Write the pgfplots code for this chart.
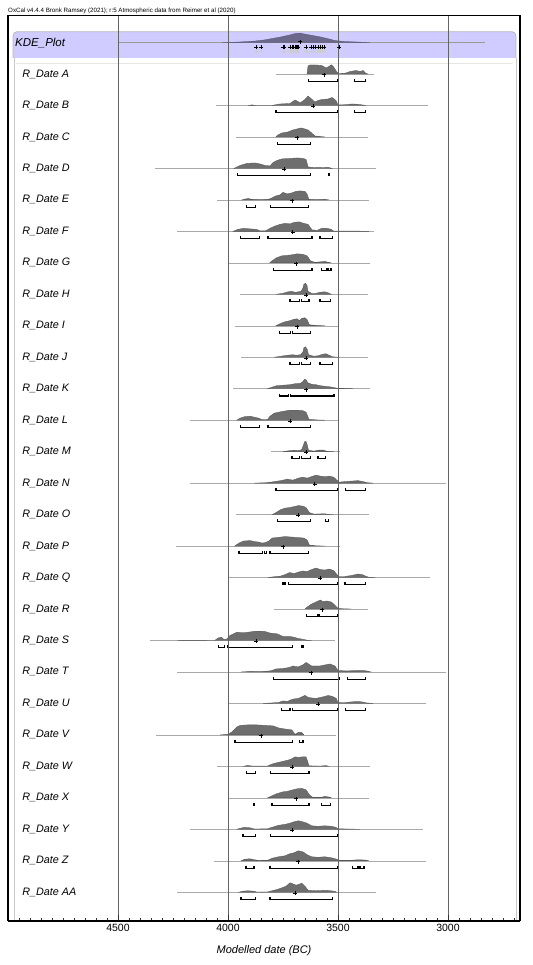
\documentclass[border=0pt]{standalone}
\usepackage{fontspec}
\setmainfont{Liberation Sans}
\usepackage{pgfplots}
\pgfplotsset{compat=1.18}
\definecolor{kdebg}{RGB}{208,204,255}
\definecolor{kdeden}{RGB}{108,104,140}
\definecolor{rangegray}{RGB}{170,170,170}
\definecolor{densgray}{RGB}{110,110,110}
\definecolor{densedge}{RGB}{85,85,85}
\definecolor{gridgray}{RGB}{100,100,100}
\definecolor{innergray}{RGB}{200,200,200}
\newcommand{\labfont}{\fontsize{10.8bp}{13bp}\selectfont}
\newcommand{\Row}[6]{%
 \addplot[rangegray, line width=0.5bp] coordinates {(#3,#1) (#4,#1)};
 \addplot[fill=densgray, draw=densedge, line width=0.3bp, y filter/.expression={#1-y}] coordinates {#5} -- cycle;
 \addplot[only marks, mark=+, mark size=2bp, mark options={line width=0.8bp}, black, y filter/.expression={#1+y}] coordinates {(#6,0.8)};
 \node[anchor=west, inner sep=0pt, font=\labfont] at (axis cs:4936,#1) {\itshape #2};
}
\newcommand{\Brk}[3]{\addplot[black, line width=1.1bp, y filter/.expression={#1+y}] coordinates {(#2,4.8) (#2,7.3) (#3,7.3) (#3,4.8)};}
\begin{document}
\begin{tikzpicture}
\useasboundingbox (-8bp,-44.3bp) rectangle (525bp,920.7bp);
\node[anchor=base west, inner sep=0pt, font=\fontsize{6.2bp}{7bp}\selectfont] at (0bp,907.7bp) {OxCal v4.4.4 Bronk Ramsey (2021); r:5 Atmospheric data from Reimer et al (2020)};
\begin{axis}[
 at={(0bp,0bp)}, anchor=south west, scale only axis, width=512bp, height=905bp,
 x dir=reverse, xmin=2672.7, xmax=5000,
 y dir=reverse, ymin=15.7, ymax=920.7,
 ytick=\empty,
 xtick={3000,3500,4000,4500},
 minor xtick={2700,2750,...,5000},
 xtick pos=left, tick align=inside,
 major tick length=6bp, minor tick length=3bp,
 xmajorgrids, grid style={draw=gridgray, line width=0.8bp},
 axis on top,
 axis line style={line width=1.2bp},
 tick style={black!80, line width=0.6bp},
 xticklabel style={font=\fontsize{10.5bp}{12bp}\selectfont},
 /pgf/number format/assume math mode=true,
 /pgf/number format/1000 sep={},
 xlabel={\itshape Modelled date (BC)},
 xlabel style={font=\fontsize{11bp}{13bp}\selectfont, at={(axis description cs:0.5,-0.0335)}, anchor=center},
 clip=false,
]
% KDE box
\filldraw[fill=kdebg, draw=gray!55, line width=0.8bp, rounded corners=4bp] (axis cs:4977,31.7) rectangle (axis cs:2691,63);
\fill[white] (axis cs:4995,58.3) rectangle (axis cs:2676,63.5);
\draw[innergray, line width=0.8bp] (axis cs:4973,58.3) -- (axis cs:4973,920);
\draw[innergray, line width=0.8bp] (axis cs:2691,58.3) -- (axis cs:2691,920);
\draw[black, line width=2bp] (axis cs:5000,920.7) -- (axis cs:2672.7,920.7);
% KDE row
\addplot[gray!80, line width=0.5bp] coordinates {(4500,42.53) (2832,42.53)};
\addplot[fill=kdeden, draw=kdeden!80!black, line width=0.3bp, y filter/.expression={42.53-y}] coordinates {(4027,0)(3950,0.5)(3877,1.5)(3832,2.7)(3764,5.4)(3720,7.5)(3695,9)(3673,9.4)(3640,8)(3582,5.7)(3540,3.5)(3514,2)(3468,1)(3400,0.4)(3355,0)} -- cycle;
\addplot[only marks, mark=+, mark size=2bp, mark options={line width=0.6bp}, gray!40] coordinates {(3873,51)(3850,51)(3750,51)(3745,51)(3718,51)(3709,51)(3705,51)(3695,51)(3691,51)(3686,51)(3682,51)(3645,51)(3623,51)(3614,51)(3605,51)(3591,51)(3582,51)(3573,51)(3564,51)};
\addplot[only marks, mark=+, mark size=2bp, mark options={line width=0.7bp}, black] coordinates {(3873,47)(3850,47)(3750,47)(3745,47)(3718,47)(3709,47)(3705,47)(3695,47)(3691,47)(3686,47)(3682,47)(3645,47)(3623,47)(3614,47)(3605,47)(3591,47)(3582,47)(3573,47)(3564,47)(3495,47)};
\addplot[only marks, mark=+, mark size=2bp, mark options={line width=0.8bp}, black] coordinates {(3673,41.8)};
\node[anchor=west, inner sep=0pt, font=\fontsize{11.5bp}{13bp}\selectfont] at (axis cs:4968,42.8) {\itshape KDE\_Plot};
% rows
\Row{74.00}{R\_Date A}{3782}{3336}{(3641,0)(3636,8)(3627,9)(3600,9)(3573,8.5)(3555,6)(3545,7)(3530,9.2)(3520,7)(3505,2)(3498,0.3)(3491,0.3)(3464,1)(3445,2.5)(3418,3.5)(3400,2.5)(3386,3.5)(3375,1)(3364,0)}{3564}
\Brk{74.00}{3636}{3500}\Brk{74.00}{3427}{3373}
\Row{105.47}{R\_Date B}{4055}{3091}{(3910,0)(3891,0.6)(3872,0)(3800,0)(3790,0.5)(3764,1.5)(3718,2)(3695,5.5)(3682,4)(3673,2.5)(3650,6)(3636,9.5)(3623,7)(3605,3.5)(3591,5)(3573,6)(3545,6.5)(3527,8)(3509,5)(3500,0.5)(3468,0.8)(3436,1.5)(3409,1.2)(3373,0)}{3614}
\Brk{105.47}{3782}{3500}\Brk{105.47}{3427}{3377}
\Row{136.94}{R\_Date C}{3964}{3364}{(3782,0)(3773,2)(3755,4)(3727,5)(3705,7)(3686,8)(3668,9)(3650,8)(3636,7)(3620,4)(3605,1)(3580,0.4)(3560,0)}{3686}
\Brk{136.94}{3773}{3627}
\Row{168.41}{R\_Date D}{4332}{3327}{(3973,0)(3945,3)(3914,5)(3877,5.5)(3855,4.5)(3832,3)(3809,2.5)(3795,6)(3777,8)(3755,9.5)(3718,10)(3686,10.5)(3659,10)(3645,9)(3636,1.5)(3605,0.8)(3573,0.8)(3545,1.2)(3527,0)}{3745}
\Brk{168.41}{3955}{3627}\Brk{168.41}{3545}{3538}
\Row{199.88}{R\_Date E}{4050}{3359}{(3936,0)(3909,1.5)(3891,0.5)(3850,0.3)(3818,0.5)(3805,1.5)(3782,4)(3764,5)(3750,7.5)(3730,6)(3710,7)(3691,8.5)(3673,9)(3650,8.5)(3641,6)(3632,0.5)(3600,0.3)(3560,0.5)(3540,0)}{3709}
\Brk{199.88}{3914}{3877}\Brk{199.88}{3805}{3636}
\Row{231.35}{R\_Date F}{4232}{3336}{(3977,0)(3955,2)(3930,3)(3900,2.5)(3870,2)(3855,0.5)(3830,0.5)(3809,3)(3790,5)(3764,7)(3740,8)(3718,7.5)(3700,9)(3677,9.5)(3655,8)(3636,7)(3618,1.5)(3595,1)(3575,3)(3550,3)(3530,2)(3520,0.3)(3400,0.2)(3360,0)}{3705}
\Brk{231.35}{3945}{3855}\Brk{231.35}{3818}{3618}\Brk{231.35}{3582}{3523}
\Row{262.82}{R\_Date G}{3995}{3355}{(3810,0)(3800,2)(3780,5)(3755,7)(3730,7.5)(3710,8)(3686,9)(3660,8.5)(3640,7)(3625,2)(3605,0.5)(3580,1)(3560,1.5)(3545,0.5)(3530,0)}{3691}
\Brk{262.82}{3795}{3618}\Brk{262.82}{3577}{3550}\Brk{262.82}{3545}{3532}
\Row{294.29}{R\_Date H}{3945}{3364}{(3782,0)(3750,1)(3727,2.5)(3710,3)(3695,2)(3680,2.5)(3668,3)(3660,6)(3655,10)(3648,11)(3641,9)(3636,3)(3620,1)(3600,1)(3582,2)(3560,2.5)(3545,1.5)(3530,0)}{3645}
\Brk{294.29}{3718}{3673}\Brk{294.29}{3664}{3632}\Brk{294.29}{3582}{3536}
\Row{325.76}{R\_Date I}{3968}{3500}{(3782,0)(3764,2)(3741,4)(3720,5)(3700,6.5)(3686,7)(3675,5)(3664,7.5)(3650,8)(3640,6)(3630,1)(3600,0.3)(3560,0)}{3686}
\Brk{325.76}{3764}{3714}\Brk{325.76}{3705}{3627}
\Row{357.23}{R\_Date J}{3941}{3364}{(3790,0)(3760,1)(3730,2)(3705,2.5)(3690,2)(3670,2.5)(3660,5)(3655,9.5)(3648,10.5)(3640,8)(3634,2.5)(3610,1)(3590,1.5)(3570,3)(3555,3.5)(3540,2)(3525,0.5)(3500,0)}{3645}
\Brk{357.23}{3718}{3673}\Brk{357.23}{3664}{3627}\Brk{357.23}{3582}{3527}
\Row{388.70}{R\_Date K}{3977}{3355}{(3820,0)(3800,1.5)(3780,3)(3750,3.5)(3720,4)(3695,5)(3670,5.5)(3660,7)(3652,9.5)(3645,9)(3638,6)(3620,4.5)(3600,4)(3580,3)(3560,2.5)(3540,2)(3525,1.5)(3505,0.5)(3470,0.3)(3430,0)}{3645}
\Brk{388.70}{3764}{3723}\Brk{388.70}{3714}{3518}
\Row{420.17}{R\_Date L}{4173}{3500}{(3960,0)(3945,2)(3925,3.5)(3900,4)(3880,3)(3860,2)(3845,0.5)(3820,0.8)(3809,4)(3790,7)(3770,8)(3745,9)(3720,10)(3700,10)(3680,10)(3660,9.5)(3645,8)(3632,1)(3600,0.3)(3560,0)}{3718}
\Brk{420.17}{3945}{3855}\Brk{420.17}{3818}{3627}
\Row{451.64}{R\_Date M}{3805}{3491}{(3750,0)(3720,1)(3700,1.5)(3680,1)(3665,2)(3658,6)(3652,10)(3646,10.5)(3640,7)(3634,1.5)(3610,0.5)(3590,1.5)(3565,1.5)(3550,0.3)(3520,0)}{3645}
\Brk{451.64}{3709}{3673}\Brk{451.64}{3664}{3627}\Brk{451.64}{3591}{3555}
\Row{483.11}{R\_Date N}{4173}{3009}{(3880,0)(3820,0.5)(3790,1.5)(3760,2.5)(3730,4)(3705,3)(3680,5)(3660,6)(3640,5)(3620,6.5)(3600,8)(3580,7)(3560,6.5)(3540,7)(3520,6)(3505,3)(3495,1)(3470,1.5)(3440,2)(3410,2.5)(3385,1.5)(3370,0.5)(3340,0)}{3605}
\Brk{483.11}{3782}{3500}\Brk{483.11}{3464}{3373}
\Row{514.58}{R\_Date O}{3964}{3359}{(3800,0)(3782,2)(3760,5)(3740,6.5)(3720,7)(3700,8)(3680,9)(3660,8.5)(3645,7)(3630,2)(3610,0.5)(3560,0.8)(3545,0.3)(3520,0)}{3682}
\Brk{514.58}{3773}{3627}\Brk{514.58}{3555}{3545}
\Row{546.05}{R\_Date P}{4236}{3491}{(3970,0)(3950,3)(3930,5)(3900,5.5)(3880,4.5)(3860,4)(3845,3)(3830,3.5)(3815,5)(3800,8)(3780,8.5)(3760,9)(3740,9.5)(3710,9)(3680,8.5)(3655,8)(3640,6)(3630,1)(3600,0.3)(3560,0)}{3750}
\Brk{546.05}{3950}{3845}\Brk{546.05}{3836}{3823}\Brk{546.05}{3809}{3636}
\Row{577.52}{R\_Date Q}{3995}{3082}{(3820,0)(3790,0.8)(3760,1.5)(3740,3)(3720,5)(3700,4)(3680,5.5)(3660,6.5)(3640,6)(3620,8)(3600,9.5)(3580,8)(3560,7.5)(3540,8.5)(3520,7)(3505,3)(3495,1)(3470,1)(3440,2)(3410,3.5)(3390,3)(3375,1.5)(3360,0.3)(3330,0)}{3582}
\Brk{577.52}{3750}{3741}\Brk{577.52}{3723}{3500}\Brk{577.52}{3468}{3373}
\Row{608.99}{R\_Date R}{3791}{3364}{(3650,0)(3640,2)(3620,5)(3600,7)(3580,9)(3570,7.5)(3550,8)(3530,7)(3510,3)(3500,0.5)(3470,0.2)(3440,0)}{3573}
\Brk{608.99}{3645}{3591}\Brk{608.99}{3586}{3500}
\Row{640.46}{R\_Date S}{4355}{3514}{(4230,0)(4205,0.3)(4150,0.3)(4080,0)(4060,0)(4045,2.5)(4030,3.3)(4018,1)(4005,1.5)(3991,5)(3959,8.3)(3930,7.7)(3900,8.5)(3877,9.3)(3850,9.3)(3832,9)(3810,7.5)(3777,6.7)(3750,4)(3720,4)(3705,3.5)(3680,2)(3655,1)(3640,0.3)(3620,0)}{3873}
\Brk{640.46}{4045}{4014}\Brk{640.46}{4000}{3705}\Brk{640.46}{3664}{3659}
\Row{671.93}{R\_Date T}{4232}{3009}{(3940,0)(3900,0.5)(3850,0.3)(3812,1)(3800,1.5)(3782,3)(3750,3.5)(3720,4.5)(3705,6)(3682,5)(3660,7)(3645,9.5)(3620,6)(3600,6)(3582,6)(3560,7)(3536,8)(3514,6)(3500,1.5)(3460,1)(3420,1.5)(3385,1.5)(3370,1)(3350,0)}{3623}
\Brk{671.93}{3795}{3495}\Brk{671.93}{3455}{3373}
\Row{703.40}{R\_Date U}{3995}{3100}{(3840,0)(3800,0.5)(3770,1)(3750,2.5)(3730,2)(3715,3.5)(3700,4.5)(3680,5)(3660,7)(3650,8)(3635,6)(3620,5.5)(3600,5)(3580,6)(3560,7)(3545,8)(3525,7)(3508,5)(3500,1)(3470,0.8)(3440,1.5)(3410,2)(3390,1.5)(3370,0.5)(3340,0)}{3591}
\Brk{703.40}{3755}{3718}\Brk{703.40}{3705}{3500}\Brk{703.40}{3464}{3373}
\Row{734.87}{R\_Date V}{4327}{3509}{(4036,0)(4000,0.5)(3982,3)(3959,8)(3945,9.5)(3910,10)(3870,10)(3830,9.5)(3795,9)(3770,7)(3745,6)(3710,5)(3695,0.5)(3680,2.5)(3665,2.5)(3655,0)}{3850}
\Brk{734.87}{3968}{3705}\Brk{734.87}{3677}{3659}
\Row{766.34}{R\_Date W}{4050}{3355}{(3930,0)(3910,1)(3890,0.3)(3820,0.3)(3809,1.5)(3790,3)(3760,4.5)(3732,6)(3715,7)(3695,9.5)(3680,9)(3660,9.5)(3645,9.5)(3638,5)(3632,0.5)(3580,0.3)(3555,0.8)(3540,0)}{3709}
\Brk{766.34}{3914}{3877}\Brk{766.34}{3805}{3632}
\Row{797.81}{R\_Date X}{3995}{3359}{(3820,0)(3800,2)(3780,4)(3750,6)(3730,6.5)(3705,8)(3686,9)(3665,9.5)(3645,8)(3630,3)(3615,0.5)(3575,0.5)(3560,1.5)(3545,1)(3530,0)}{3691}
\Brk{797.81}{3886}{3882}\Brk{797.81}{3800}{3632}\Brk{797.81}{3573}{3536}
\Row{829.28}{R\_Date Y}{4173}{3114}{(3960,0)(3945,1)(3925,2)(3900,1.5)(3880,0.3)(3820,0.5)(3800,2)(3770,4)(3740,5)(3720,6)(3700,7.5)(3680,8.5)(3660,7.5)(3640,6)(3620,3.5)(3590,3)(3560,3.5)(3530,3)(3510,2)(3500,0.5)(3450,0.3)(3400,0)}{3709}
\Brk{829.28}{3932}{3873}\Brk{829.28}{3805}{3500}
\Row{860.75}{R\_Date Z}{4064}{3100}{(3940,0)(3925,1.5)(3900,2)(3880,1)(3860,0.3)(3820,0.5)(3800,2.5)(3770,4)(3740,5)(3720,7)(3700,8)(3680,10)(3660,9)(3640,6)(3620,4)(3590,3.5)(3560,4)(3530,3)(3505,1.5)(3495,0.5)(3440,0.5)(3410,1)(3380,0.8)(3360,0)}{3682}
\Brk{860.75}{3918}{3882}\Brk{860.75}{3809}{3500}\Brk{860.75}{3436}{3409}\Brk{860.75}{3400}{3382}
\Row{892.22}{R\_Date AA}{4232}{3327}{(3950,0)(3935,1)(3910,1.5)(3880,1)(3870,0.2)(3820,0.3)(3800,1.5)(3773,3)(3736,6)(3718,9.5)(3690,7)(3664,9)(3650,6)(3636,2)(3600,1.5)(3555,2)(3515,1)(3505,0)}{3695}
\Brk{892.22}{3941}{3873}\Brk{892.22}{3809}{3527}
\end{axis}
\end{tikzpicture}
\end{document}
